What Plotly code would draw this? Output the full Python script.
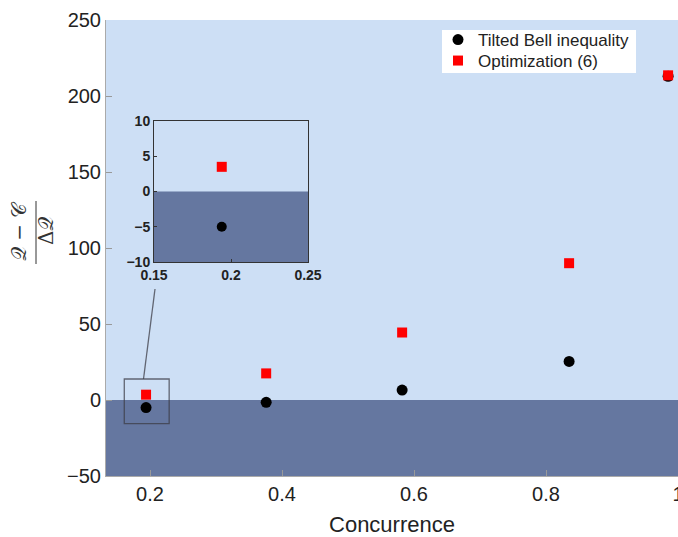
import plotly.graph_objects as go

# Data
concurrence = [0.194, 0.376, 0.582, 0.835, 0.985]
tilted_bell = [-5.0, -1.5, 6.5, 25.4, 213.0]
optimization = [3.5, 17.5, 44.4, 90.0, 213.6]

x_ticks = [0.2, 0.4, 0.6, 0.8, 1.0]
x_ticklabels = ["0.2", "0.4", "0.6", "0.8", "1"]
y_ticks = [-50, 0, 50, 100, 150, 200, 250]
inset_x_ticks = [0.15, 0.2, 0.25]
inset_x_labels = ["0.15", "0.2", "0.25"]
inset_y_ticks = [-10, -5, 0, 5, 10]

LIGHT = "#cddff5"
DARK = "#6577a0"
FONT = "Liberation Sans, Arial, sans-serif"

# plot area spans page x 106..678, y 20..476
W, H = 678, 537
L, T, R, B = 106, 20, 0, 61
PW, PH = W - L - R, H - T - B


def px(xp):
    return (xp - L) / PW


def py(yp):
    return (T + PH - yp) / PH


fig = go.Figure()

fig.add_trace(go.Scatter(
    x=concurrence, y=tilted_bell, mode="markers", name="Tilted Bell inequality",
    marker=dict(symbol="circle", size=11, color="black"),
    xaxis="x", yaxis="y", legend="legend"))
fig.add_trace(go.Scatter(
    x=concurrence, y=optimization, mode="markers", name="Optimization (6)",
    marker=dict(symbol="square", size=10, color="#ff0000"),
    xaxis="x", yaxis="y", legend="legend2"))

fig.add_trace(go.Scatter(
    x=concurrence, y=tilted_bell, mode="markers", showlegend=False,
    marker=dict(symbol="circle", size=10, color="black"),
    xaxis="x2", yaxis="y2", cliponaxis=True))
fig.add_trace(go.Scatter(
    x=concurrence, y=optimization, mode="markers", showlegend=False,
    marker=dict(symbol="square", size=10, color="#ff0000"),
    xaxis="x2", yaxis="y2", cliponaxis=True))

shapes = [
    dict(type="rect", xref="x domain", yref="y", x0=0, x1=1, y0=-50, y1=0,
         fillcolor=DARK, line=dict(width=0), layer="below"),
    dict(type="rect", xref="x2", yref="y2", x0=0.15, x1=0.25, y0=0, y1=10,
         fillcolor=LIGHT, line=dict(width=0), layer="below"),
    dict(type="rect", xref="x2", yref="y2", x0=0.15, x1=0.25, y0=-10, y1=0,
         fillcolor=DARK, line=dict(width=0), layer="below"),
    dict(type="rect", xref="x", yref="y", x0=0.161, x1=0.229, y0=-15.5, y1=13.8,
         fillcolor="rgba(0,0,0,0)", line=dict(color="rgba(60,60,70,0.75)", width=1.3)),
    dict(type="line", xref="paper", yref="paper", x0=px(143.5), y0=py(379), x1=px(155), y1=py(289),
         line=dict(color="rgba(60,60,70,0.75)", width=1.3)),
    # legend box
    dict(type="rect", xref="paper", yref="paper", x0=px(442), x1=px(636), y0=py(73), y1=py(30),
         fillcolor="white", line=dict(width=0), layer="above"),
    # y-axis title fraction bar
    dict(type="line", xref="paper", yref="paper", x0=px(36), x1=px(36), y0=py(264), y1=py(201),
         line=dict(color="#333", width=1)),
]

annotations = [
    dict(text="𝒬 − 𝒞", xref="paper", yref="paper", x=px(19), y=py(231),
         xanchor="center", yanchor="middle",
         showarrow=False, textangle=-90, font=dict(size=20, color="#333", family="DejaVu Serif, serif")),
    dict(text="Δ𝒬", xref="paper", yref="paper", x=px(46), y=py(231),
         xanchor="center", yanchor="middle",
         showarrow=False, textangle=-90, font=dict(size=20, color="#333", family="DejaVu Serif, serif")),
]

legend_style = dict(xanchor="left", yanchor="top", bgcolor="rgba(0,0,0,0)", borderwidth=0,
                    font=dict(size=17, color="#222", family=FONT), itemwidth=30)

fig.update_layout(
    width=W, height=H,
    margin=dict(l=L, r=R, t=T, b=B, autoexpand=False),
    paper_bgcolor="white",
    plot_bgcolor=LIGHT,
    font=dict(family=FONT, color="#222"),
    shapes=shapes,
    annotations=annotations,
    showlegend=True,
    legend=dict(x=px(438), y=py(22), **legend_style),
    legend2=dict(x=px(438), y=py(43), **legend_style),
    xaxis=dict(range=[0.1333, 1.0], tickvals=x_ticks, ticktext=x_ticklabels,
               ticks="inside", ticklen=6, tickcolor="#999", automargin=False,
               ticklabeloverflow="allow",
               showline=True, linecolor="#aaa", linewidth=1, mirror=False,
               showgrid=False, zeroline=False,
               tickfont=dict(size=20, color="#222"),
               title=dict(text="Concurrence", font=dict(size=22, color="#222"), standoff=13)),
    yaxis=dict(range=[-50, 250], tickvals=y_ticks,
               ticks="inside", ticklen=6, tickcolor="#999", automargin=False,
               ticklabeloverflow="allow",
               showline=True, linecolor="#aaa", linewidth=1,
               showgrid=False, zeroline=False,
               tickfont=dict(size=20, color="#222")),
    xaxis2=dict(domain=[px(154), px(308)], anchor="y2", range=[0.15, 0.25],
                tickvals=inset_x_ticks, ticktext=inset_x_labels, automargin=False,
                ticks="inside", ticklen=3, tickcolor="#333",
                showline=True, linecolor="#333", linewidth=1, mirror=True,
                showgrid=False, zeroline=False,
                tickfont=dict(size=14, color="#222", family=FONT, weight="bold")),
    yaxis2=dict(domain=[py(262), py(121)], anchor="x2", range=[-10, 10],
                tickvals=inset_y_ticks, automargin=False,
                ticks="inside", ticklen=3, tickcolor="#333",
                showline=True, linecolor="#333", linewidth=1, mirror=True,
                showgrid=False, zeroline=False,
                tickfont=dict(size=14, color="#222", family=FONT, weight="bold")),
)

fig.write_html("out.html", config={"displayModeBar": False},
               post_script="document.body.style.margin='0';document.body.style.overflow='hidden';")
